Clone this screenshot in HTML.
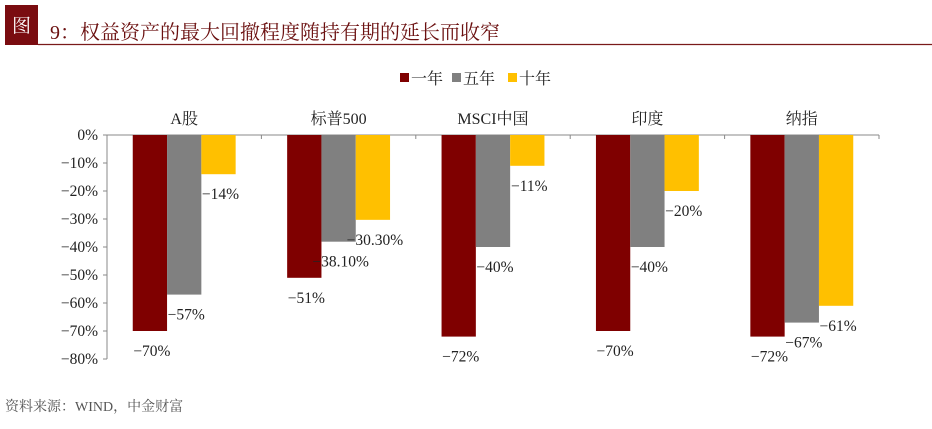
<!DOCTYPE html>
<html><head><meta charset="utf-8"><style>
body{margin:0;width:932px;height:424px;background:#fff;overflow:hidden;font-family:"Liberation Serif","Noto Serif CJK SC",serif;}
svg text{font-family:"Liberation Serif","Noto Serif CJK SC",serif;}
</style></head><body>
<svg width="932" height="424" id="chart">
<rect x="5" y="5" width="33" height="40" fill="#7a0c10"/>
<text x="21.5" y="32" font-size="19" fill="#fff" text-anchor="middle">图</text>
<line x1="38" y1="44.5" x2="932" y2="44.5" stroke="#7a1a1a" stroke-width="1.2"/>
<text x="50" y="39" font-size="20" fill="#6b1010">9：权益资产的最大回撤程度随持有期的延长而收窄</text>
<g id="legend"></g>
<g id="axes"></g>
<g id="bars"></g>
<text x="5" y="411" font-size="14" fill="#555">资料来源：WIND，中金财富</text>
</svg>
<script>
const categories=["A股","标普500","MSCI中国","印度","纳指"];
const series=["一年","五年","十年"];
const oneYear=[-70,-51,-72,-70,-72];
const fiveYear=[-57,-38.1,-40,-40,-67];
const tenYear=[-14,-30.3,-11,-20,-61];
const valueLabels=[["−70%","−51%","−72%","−70%","−72%"],["−57%","−38.10%","−40%","−40%","−67%"],["−14%","−30.30%","−11%","−20%","−61%"]];
const yTicks=[0,-10,-20,-30,-40,-50,-60,-70,-80];
const colors=["#7f0000","#808080","#ffc000"];
const NS="http://www.w3.org/2000/svg";
const X0=107,X1=879,Y0=135,Y1=359;
const yScale=v=>Y0+(0-v)/80*(Y1-Y0);
const gw=(X1-X0)/categories.length;
const barW=34.3;
const xBar=(i,s)=>X0+i*gw+gw/2-barW*1.5+s*barW;
function el(t,a,p){const e=document.createElementNS(NS,t);for(const k in a)e.setAttribute(k,a[k]);p.appendChild(e);return e;}
const axes=document.getElementById('axes');
const yAxis=el('line',{x1:X0,y1:Y0,x2:X0,y2:Y1,stroke:'#888'},axes);


yTicks.forEach(v=>{
 const y=yScale(v);
 el('line',{x1:X0-4,y1:y,x2:X0,y2:y,stroke:'#888'},axes);
 const t=el('text',{x:X0-9,y:y+5,'font-size':15.5,'text-anchor':'end',fill:'#222'},axes);
 t.textContent=(v<0?'−':'')+Math.abs(v)+'%';
 
 
});
const xAxis=el('line',{x1:X0,y1:Y0,x2:X1,y2:Y0,stroke:'#888'},axes);


categories.forEach((c,i)=>{
 const tx=X0+(i+1)*gw;
 el('line',{x1:tx,y1:Y0,x2:tx,y2:Y0+4,stroke:'#888'},axes);
 const t=el('text',{x:X0+i*gw+gw/2,y:124,'font-size':16,'text-anchor':'middle',fill:'#222'},axes);
 t.textContent=c;
 
 
});
const bars=document.getElementById('bars');
[oneYear,fiveYear,tenYear].forEach((arr,s)=>{
 arr.forEach((v,i)=>{
  const x=xBar(i,s),y=yScale(v);
  const r=el('rect',{x:x,y:Y0,width:barW,height:y-Y0,fill:colors[s]},bars);
  
  
  const t=el('text',{x:x+barW/2+2,y:y+25,'font-size':15.5,'text-anchor':'middle',fill:'#222'},bars);
  t.textContent=valueLabels[s][i];
  
  
 });
});
const lg=document.getElementById('legend');
const lx=[392,444,500];
series.forEach((s,k)=>{
 const r=el('rect',{x:lx[k]+8,y:73,width:9,height:9,fill:colors[k]},lg);
 
 
 const t=el('text',{x:lx[k]+19,y:84,'font-size':16,fill:'#222'},lg);
 t.textContent=s;
 
 
});
</script>
</body></html>
